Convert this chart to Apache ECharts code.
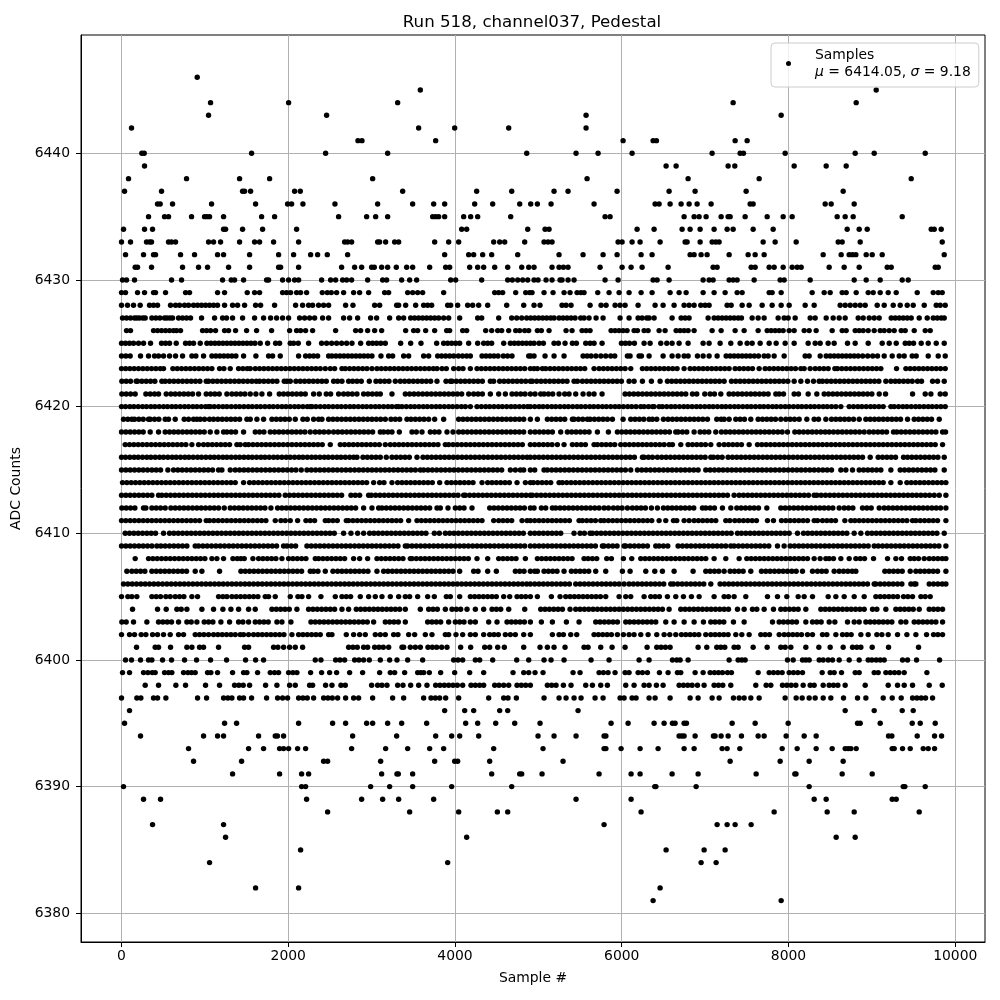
<!DOCTYPE html>
<html><head><meta charset="utf-8">
<script src="https://cdn.jsdelivr.net/npm/echarts@6/dist/echarts.min.js"></script>
<style>html,body{margin:0;padding:0;background:#fff}#c{width:1000px;height:1000px}</style>
</head><body><div id="c"></div>
<script>
const titleText="Run 518, channel037, Pedestal";
const xName="Sample #", yName="ADC Counts";
const xTicks=[0,2000,4000,6000,8000,10000];
const yTicks=[6380,6390,6400,6410,6420,6430,6440];
const x6446=[908];
const x6445=[3584,9052];
const x6444=[1068,2004,3312,7336,8812];
const x6443=[1044,2460,5572,7912];
const x6442=[120,3564,3996,4644,5572];
const x6441=[2836,2884,3768,6016,6376,6416,7360,7504];
const x6440=[244,272,1560,2448,3192,4860,5452,5716,6124,7084,7420,7460,7960,8800,9028,9640];
const x6439=[276,6532,6652,7276,7356,8068,8452,8692];
const x6438=[84,780,1416,1776,3012,5584,6796,7648,9472];
const x6437=[36,480,1452,1476,1548,2076,2144,3372,4260,4680,5188,5356,5944,6568,6880,7492,8656];
const x6436=[432,464,612,1080,1608,1992,2040,2176,2560,3072,3492,3744,3876,4236,4452,4776,4908,4988,5152,5668,6400,6448,6580,6712,6808,6904,7072,7540,7576,8440,8512,8788];
const x6435=[324,516,564,840,996,1024,1056,1224,1680,1836,2604,2940,3048,3192,3732,3768,3804,3876,4104,4188,4272,4668,5800,5860,6748,6868,6928,7012,7192,7276,7300,7480,7744,7936,8044,8584,8680,8776,9364];
const x6434=[24,276,372,1224,1248,1452,1692,2100,4080,4140,4872,5080,5128,6184,6388,6724,6820,6940,7108,7264,7336,7576,7816,8704,8848,8944,9712,9748,9832];
const x6433=[0,108,300,336,360,564,600,648,1044,1104,1188,1416,1596,1656,1824,2124,2676,2712,2760,3072,3096,3168,3276,3324,3756,3924,4044,4464,4536,4596,4836,5068,5116,5164,5956,6004,6124,6220,6460,6760,6784,6940,7084,7128,7168,7696,7840,8092,8596,8644,8860,9844];
const x6432=[48,264,384,408,708,876,1152,1224,1536,1884,2064,2268,2352,2468,2712,3876,4164,4224,4332,4440,4752,5248,5536,5776,5944,6232,6364,6820,6868,6952,7024,7288,7516,7600,7708,8416,8632,8728,8768,8808,8932,9004,9124,9868];
const x6431=[164,192,360,732,924,1032,1284,1536,1884,1908,2124,2640,2796,2880,3000,3032,3120,3192,3296,3420,3492,3696,3888,3936,4176,4272,4344,4476,4632,4800,4884,4948,5164,5248,5300,5356,5740,6004,6112,6244,6556,7096,7144,7552,7600,7768,7828,7936,8044,8104,8152,8488,8668,8848,9184,9232,9760,9796];
const x6430=[12,60,156,600,720,1212,1316,1356,1464,1740,1764,1932,2004,2076,2124,2400,2508,2568,2652,2700,2760,2952,3132,3180,3360,3456,3540,3948,4008,4320,4632,4688,4752,4812,4872,4948,4996,5092,5164,5260,5284,5356,5428,5800,5956,6376,6424,6568,6976,7048,7096,7288,7336,7384,7588,7900,7948,8260,8788,8932,9100,9364,9436];
const x6429=[0,48,192,276,384,408,528,768,816,1152,1236,1508,1596,1656,1932,1980,2028,2100,2148,2220,2408,2468,2516,2580,2664,2784,2856,2964,3156,3204,3432,3492,3552,3612,3864,4476,4524,4572,4728,4848,4896,4924,5068,5176,5308,5380,5464,5510,5548,5712,5848,5968,6088,6232,6364,6580,6688,6772,6976,7108,7240,7384,7444,7768,7804,7912,8284,8428,8500,8644,8692,8812,8956,9016,9100,9196,9292,9544,9736,9796,9844];
const x6428=[0,72,144,224,336,384,432,588,648,696,756,804,864,912,960,1008,1056,1104,1152,1236,1332,1392,1476,1608,1668,1836,2088,2172,2244,2292,2364,2424,2484,2688,2776,3036,3096,3300,3324,3408,3528,3624,3672,3720,3912,3948,4032,4152,4212,4284,4392,4620,4824,4948,5020,5284,5332,5392,5620,5752,5812,5920,5980,6040,6196,6400,6496,6628,6748,6808,6868,6948,7000,7048,7264,7312,7444,7528,7684,7804,7912,8008,8200,8308,8620,8680,8740,8800,8860,8920,9064,9148,9256,9340,9424,9496,9628,9772,9820,9880];
const x6427=[12,60,108,156,184,216,256,284,364,412,460,516,544,580,612,684,732,780,828,960,1116,1212,1260,1332,1452,1596,1704,1788,1860,1932,2004,2136,2196,2256,2316,2412,2484,2664,2736,2832,2988,3060,3216,3324,3384,3468,3516,3564,3612,3660,3708,3756,3804,3864,3924,4056,4272,4320,4524,4680,4740,4800,4860,4908,4956,5004,5052,5100,5148,5188,5248,5296,5344,5392,5440,5508,5548,5608,5692,5776,5980,6088,6196,6244,6300,6328,6388,6604,6712,6760,6808,7036,7108,7156,7204,7252,7300,7348,7396,7436,7564,7636,7708,7876,7948,7996,8080,8260,8320,8452,8536,8608,8680,8836,8896,8968,9028,9088,9232,9280,9328,9376,9424,9472,9568,9664,9736,9784,9832,9868];
const x6426=[60,108,384,432,480,528,576,624,660,708,972,1020,1068,1128,1236,1284,1368,1500,1620,1800,2016,2100,2148,2208,2292,2568,2808,2868,2952,3036,3120,3408,3504,3552,3648,3756,3900,3936,4092,4140,4368,4440,4512,4560,4644,4728,4776,4836,4884,4988,5036,5128,5332,5404,5524,5572,5620,5872,5920,5968,6016,6064,6148,6188,6268,6316,6448,6520,6652,6700,6748,6796,6868,7084,7192,7360,7468,7636,7744,7792,7840,7888,7936,8008,8068,8188,8248,8332,8524,8644,8692,8800,8848,8896,8956,9028,9100,9148,9208,9268,9352,9400,9508,9640,9700];
const x6425=[0,48,96,144,204,264,348,480,528,576,656,768,816,864,944,1024,1072,1120,1168,1216,1264,1312,1360,1408,1456,1504,1552,1600,1664,1752,1848,1896,2024,2064,2120,2244,2400,2460,2520,2580,2640,2700,2764,2868,2964,3012,3060,3110,3164,3348,3468,3592,3780,3864,3912,3960,4008,4056,4164,4272,4344,4392,4440,4584,4664,4712,4760,4808,4856,4904,4948,5008,5060,5188,5240,5320,5408,5456,5568,5620,5668,5764,5996,6044,6092,6152,6268,6340,6468,6540,6604,6688,6796,6976,7048,7180,7308,7420,7504,7564,7660,7768,7852,7960,8068,8236,8320,8380,8476,8548,8708,8800,8956,9124,9208,9292,9400,9448,9500,9592,9676,9772,9868];
const x6424=[0,52,104,228,324,396,444,504,576,648,732,844,892,984,1084,1132,1180,1228,1276,1324,1372,1464,1612,1764,1812,1904,2124,2208,2256,2304,2352,2484,2524,2572,2620,2668,2716,2764,2812,2860,2908,2956,3004,3112,3204,3252,3384,3444,3624,3684,3792,3840,3888,3936,3984,4040,4090,4140,4184,4324,4372,4420,4468,4516,4580,4630,4684,4884,4908,4948,5080,5188,5308,5536,5584,5632,5690,5750,5808,5868,5916,6068,6100,6208,6236,6328,6496,6604,6676,6748,6796,6908,6976,7048,7144,7252,7300,7348,7396,7444,7492,7540,7590,7640,7708,7756,7828,7948,8200,8248,8380,8452,8500,8548,8596,8644,8692,8740,8788,8836,8890,8950,9010,9068,9148,9244,9328,9388,9484,9532,9676,9796,9880];
const x6423=[0,50,100,152,204,256,308,360,412,464,504,616,668,720,772,824,876,928,980,1032,1084,1176,1228,1304,1404,1456,1508,1544,1604,1656,1708,1760,1812,1864,1916,1968,2020,2072,2124,2176,2228,2280,2332,2384,2444,2504,2556,2644,2684,2736,2788,2840,2892,2944,3004,3064,3116,3168,3220,3272,3324,3376,3428,3480,3532,3584,3636,3688,3740,3784,3844,3896,3984,4044,4096,4184,4264,4316,4368,4420,4472,4524,4576,4628,4680,4732,4784,4836,4904,4948,4988,5048,5088,5140,5192,5244,5296,5348,5400,5452,5504,5556,5668,5728,5780,5832,5884,5936,5988,6040,6108,6248,6300,6352,6404,6456,6508,6560,6612,6664,6748,6820,6872,6924,6976,7028,7080,7132,7184,7236,7288,7360,7412,7464,7516,7568,7648,7720,7772,7824,7876,7928,7980,8032,8084,8148,8188,8260,8320,8372,8424,8476,8556,8588,8640,8692,8744,8796,8848,8900,8952,9004,9056,9108,9296,9408,9460,9512,9564,9616,9668,9720,9772,9824,9880];
const x6422=[4,56,108,176,192,244,296,348,400,484,524,576,628,680,732,784,836,888,940,1016,1044,1096,1148,1200,1252,1304,1356,1408,1460,1512,1564,1616,1656,1708,1760,1812,1864,1952,1984,2024,2092,2144,2196,2248,2300,2352,2404,2456,2544,2592,2644,2724,2772,2824,2876,2972,3052,3104,3156,3208,3284,3344,3396,3448,3500,3552,3604,3656,3708,3784,3892,3944,3964,4016,4068,4120,4172,4224,4276,4328,4424,4464,4536,4588,4640,4692,4744,4796,4848,4904,4928,4980,5032,5084,5136,5188,5240,5292,5344,5428,5468,5528,5580,5632,5684,5736,5788,5840,5892,5944,5996,6088,6148,6248,6356,6460,6548,6600,6652,6704,6756,6808,6860,6912,6964,7016,7068,7120,7172,7228,7316,7368,7420,7472,7524,7576,7628,7680,7732,7784,7836,7888,7940,7992,8068,8148,8228,8300,8368,8408,8460,8512,8564,8616,8668,8720,8772,8824,8876,8928,8980,9032,9084,9168,9228,9280,9328,9380,9432,9484,9548,9596,9728,9788,9868];
const x6421=[4,56,108,164,292,344,396,444,536,592,644,696,748,800,852,924,1016,1068,1120,1172,1264,1324,1376,1428,1480,1544,1612,1684,1776,1892,1944,1996,2048,2100,2152,2204,2304,2372,2456,2508,2604,2664,2716,2768,2824,2904,2956,3008,3060,3104,3244,3404,3456,3508,3560,3612,3664,3716,3768,3820,3872,3924,3976,4028,4080,4164,4224,4276,4328,4424,4524,4604,4684,4736,4788,4840,4904,4960,5028,5068,5120,5172,5248,5316,5368,5448,5536,5608,5668,5764,6040,6092,6144,6196,6248,6300,6352,6404,6456,6508,6560,6612,6664,6716,6768,6848,6900,6996,7060,7112,7188,7288,7340,7392,7444,7496,7548,7600,7652,7704,7756,7848,7888,7940,8068,8120,8236,8340,8428,8480,8532,8584,8636,8688,8740,8792,8844,8896,8948,9000,9088,9164,9488,9640,9708,9820,9880];
const x6420=[0,48,100,148,200,252,300,352,400,452,504,552,604,652,704,756,804,856,904,956,1008,1044,1064,1112,1164,1216,1264,1316,1368,1416,1468,1520,1568,1620,1668,1720,1772,1820,1872,1924,1972,2024,2076,2124,2176,2228,2264,2284,2332,2384,2436,2484,2536,2588,2636,2688,2740,2788,2840,2892,2940,2992,3044,3092,3144,3196,3244,3296,3324,3364,3416,3468,3516,3568,3620,3668,3720,3772,3820,3872,3924,3972,4024,4076,4124,4184,4264,4316,4368,4416,4468,4520,4568,4620,4672,4720,4772,4824,4872,4904,4956,5008,5056,5108,5160,5208,5260,5312,5360,5412,5464,5512,5564,5616,5664,5716,5768,5816,5868,5920,5968,6020,6072,6120,6172,6228,6268,6320,6368,6388,6448,6488,6540,6592,6640,6692,6744,6792,6844,6896,6944,6996,7048,7096,7148,7200,7248,7300,7352,7400,7452,7504,7552,7604,7656,7704,7756,7808,7856,7908,7960,8008,8060,8112,8160,8212,8264,8312,8364,8416,8464,8516,8568,8628,8728,8780,8832,8880,8932,8984,9032,9084,9136,9228,9268,9320,9372,9420,9472,9524,9572,9624,9676,9724,9776,9828,9880];
const x6419=[24,76,124,156,208,260,324,344,396,448,524,564,644,752,804,864,904,944,996,1056,1104,1156,1208,1260,1312,1364,1416,1504,1544,1624,1704,1804,1856,1908,1960,2012,2084,2176,2228,2304,2364,2404,2484,2536,2588,2640,2692,2744,2796,2848,2900,2952,3004,3056,3108,3164,3232,3284,3336,3424,3472,3524,3576,3628,3684,3756,3864,4044,4096,4148,4200,4252,4304,4356,4408,4460,4512,4564,4616,4668,4720,4772,4824,4904,4988,5108,5160,5212,5264,5316,5408,5428,5480,5532,5588,5620,5672,5724,5776,5828,5888,6016,6108,6160,6212,6264,6328,6368,6420,6500,6556,6608,6660,6712,6764,6816,6868,6920,6972,7028,7140,7192,7228,7288,7368,7420,7472,7548,7636,7688,7740,7792,7844,7908,7968,8020,8072,8128,8220,8308,8360,8448,8516,8568,8620,8672,8724,8780,8848,8928,8980,9032,9084,9136,9188,9240,9292,9344,9428,9508,9560,9612,9664,9716,9808];
const x6418=[0,52,104,156,208,260,344,444,524,576,628,680,732,784,836,888,940,992,1064,1144,1224,1264,1316,1368,1464,1604,1656,1708,1784,1836,1888,1940,1992,2044,2096,2148,2200,2264,2324,2376,2428,2484,2544,2596,2648,2700,2752,2804,2856,2908,2960,3012,3104,3144,3196,3244,3332,3484,3536,3604,3704,3756,3808,3904,3976,4044,4096,4148,4200,4252,4304,4356,4408,4460,4512,4564,4616,4668,4720,4772,4824,4904,4960,5012,5064,5116,5168,5268,5348,5400,5452,5504,5556,5608,5708,5840,5948,6000,6052,6104,6156,6208,6260,6312,6364,6416,6468,6520,6572,6648,6676,6728,6780,6868,6940,6992,7044,7128,7196,7248,7300,7352,7404,7456,7508,7560,7612,7664,7716,7768,7820,7872,7924,7988,8076,8128,8180,8232,8284,8336,8388,8440,8488,8540,8592,8644,8696,8748,8800,8852,8908,8968,9020,9072,9124,9176,9260,9300,9352,9404,9456,9508,9560,9612,9664,9716,9768,9848,9884];
const x6417=[44,96,148,200,252,304,356,408,460,512,564,616,668,720,772,844,924,984,1036,1088,1140,1192,1244,1296,1384,1424,1484,1524,1576,1628,1680,1732,1784,1836,1888,1940,1992,2044,2096,2148,2200,2252,2304,2356,2408,2504,2624,2676,2728,2780,2832,2884,2936,2988,3040,3092,3164,3224,3276,3328,3380,3432,3484,3536,3588,3640,3692,3744,3796,3884,3924,3976,4028,4080,4132,4184,4236,4288,4340,4392,4444,4496,4548,4600,4652,4704,4756,4808,4904,4956,5008,5060,5112,5164,5228,5308,5408,5460,5512,5564,5668,5708,5760,5812,5864,5916,5988,6040,6092,6144,6196,6248,6300,6352,6404,6456,6508,6568,6608,6708,6796,6848,6900,6952,7004,7068,7168,7228,7280,7332,7384,7436,7528,7628,7680,7732,7784,7836,7888,7940,7992,8044,8096,8148,8200,8252,8304,8356,8408,8460,8512,8564,8616,8668,8720,8772,8824,8876,8928,8980,9032,9084,9136,9188,9240,9292,9344,9396,9448,9500,9552,9604,9656,9708,9760,9848];
const x6416=[0,48,100,152,200,252,304,352,404,456,504,556,608,656,708,760,808,860,912,960,1012,1064,1112,1164,1216,1264,1316,1368,1416,1468,1520,1568,1620,1672,1720,1772,1824,1872,1924,1976,2024,2076,2128,2176,2228,2280,2328,2380,2432,2480,2532,2584,2632,2684,2736,2784,2824,2896,2948,3000,3052,3104,3176,3244,3296,3348,3400,3452,3544,3616,3668,3720,3772,3824,3876,3928,3980,4032,4084,4136,4188,4240,4292,4344,4396,4448,4500,4552,4604,4656,4708,4760,4812,4864,4904,4956,5008,5060,5112,5164,5216,5268,5320,5372,5424,5476,5528,5580,5632,5684,5736,5788,5840,5892,5944,5996,6048,6100,6152,6248,6268,6320,6368,6428,6480,6532,6584,6636,6688,6740,6792,6844,6896,6948,7000,7068,7100,7152,7204,7276,7328,7380,7432,7484,7536,7588,7640,7692,7744,7796,7848,7900,7952,8004,8056,8108,8160,8212,8264,8316,8368,8420,8472,8524,8576,8628,8680,8732,8784,8836,8888,8980,9076,9128,9180,9232,9284,9380,9428,9480,9532,9584,9636,9688,9740,9792,9868];
const x6415=[0,52,104,156,208,260,312,364,416,468,556,624,676,728,780,832,884,936,988,1040,1092,1164,1204,1304,1364,1416,1468,1520,1572,1624,1676,1728,1780,1832,1884,1936,1988,2040,2092,2156,2224,2276,2328,2380,2432,2484,2536,2588,2640,2692,2744,2796,2848,2900,2952,3004,3056,3108,3160,3212,3264,3316,3368,3420,3472,3524,3584,3624,3676,3728,3780,3832,3884,3936,3988,4040,4092,4144,4196,4248,4300,4352,4404,4456,4508,4560,4664,4724,4784,4824,4904,4956,5068,5108,5160,5212,5264,5316,5368,5420,5472,5524,5576,5628,5680,5732,5784,5836,5888,5940,5992,6044,6108,6188,6240,6292,6344,6396,6448,6500,6552,6604,6656,6708,6760,6812,6864,6916,7008,7060,7112,7164,7216,7268,7320,7372,7424,7476,7528,7580,7632,7684,7736,7788,7840,7892,7944,7996,8048,8100,8152,8204,8256,8308,8360,8412,8464,8516,8628,8688,8768,8848,8900,8952,9004,9056,9108,9228,9340,9392,9444,9496,9548,9600,9652,9704,9756,9868];
const x6414=[12,64,116,168,220,272,324,376,428,480,532,584,636,688,740,792,844,896,948,1000,1052,1104,1156,1208,1260,1312,1364,1464,1536,1588,1640,1692,1744,1796,1848,1900,1952,2004,2056,2108,2160,2212,2264,2316,2368,2420,2472,2524,2576,2628,2680,2732,2784,2836,2888,2940,3024,3096,3148,3244,3312,3364,3416,3468,3520,3572,3624,3676,3728,3816,3904,3956,4008,4060,4112,4164,4216,4324,4392,4444,4496,4548,4600,4652,4744,4844,4904,4940,4992,5044,5096,5148,5248,5288,5340,5392,5444,5496,5548,5600,5652,5704,5756,5808,5860,5912,5964,6016,6068,6120,6172,6224,6276,6328,6380,6432,6484,6536,6588,6640,6692,6744,6796,6848,6900,6952,7004,7056,7108,7160,7212,7264,7316,7368,7420,7472,7524,7576,7628,7680,7732,7784,7836,7888,7940,7992,8044,8096,8148,8200,8252,8304,8356,8408,8460,8512,8564,8616,8668,8720,8772,8824,8876,8928,8980,9032,9084,9136,9228,9340,9420,9472,9524,9576,9628,9680,9732,9784,9836,9888];
const x6413=[0,52,104,156,208,260,312,364,444,484,536,588,640,692,744,796,848,900,952,1004,1056,1108,1160,1212,1264,1316,1368,1420,1472,1524,1576,1628,1680,1732,1784,1836,1888,1964,2016,2068,2120,2172,2224,2276,2328,2380,2432,2484,2536,2588,2640,2752,2804,2856,2964,2996,3048,3100,3152,3204,3256,3308,3360,3412,3464,3516,3568,3620,3672,3724,3776,3828,3880,3932,3984,4036,4104,4124,4176,4228,4280,4332,4384,4436,4488,4540,4592,4644,4696,4748,4800,4852,4904,4928,4980,5032,5084,5136,5188,5240,5292,5344,5396,5448,5500,5552,5604,5656,5708,5760,5812,5864,5916,5968,6020,6072,6124,6176,6228,6280,6332,6384,6436,6488,6540,6592,6644,6696,6748,6800,6852,6904,6956,7008,7060,7112,7164,7216,7268,7348,7408,7460,7512,7564,7616,7668,7720,7772,7824,7876,7928,7980,8032,8084,8136,8188,8240,8308,8340,8392,8444,8496,8548,8600,8652,8704,8756,8808,8860,8912,8964,9016,9068,9120,9172,9224,9276,9328,9380,9432,9484,9536,9588,9640,9692,9748,9808,9888];
const x6412=[4,56,108,160,264,292,364,416,468,524,592,644,696,748,800,852,904,956,1008,1060,1112,1164,1232,1304,1356,1408,1460,1512,1564,1616,1668,1720,1792,1872,1924,1976,2028,2080,2132,2184,2236,2288,2340,2392,2444,2496,2548,2600,2652,2704,2756,2808,2904,3004,3084,3124,3176,3228,3280,3332,3384,3436,3488,3540,3592,3644,3696,3784,3824,3916,4004,4056,4108,4204,4416,4468,4520,4572,4624,4676,4728,4780,4832,4904,4948,5036,5088,5168,5208,5260,5312,5364,5416,5468,5520,5572,5624,5676,5728,5788,5840,5900,5952,6004,6068,6128,6180,6232,6284,6356,6428,6500,6552,6604,6656,6708,6760,6812,6864,6968,7008,7060,7112,7208,7308,7380,7432,7484,7536,7588,7640,7740,7908,7960,8012,8064,8116,8168,8220,8272,8324,8376,8428,8480,8532,8608,8668,8720,8772,8888,8940,8992,9088,9148,9200,9252,9304,9356,9408,9460,9512,9564,9616,9668,9720,9772,9824,9888];
const x6411=[0,52,104,156,208,260,312,364,416,468,520,572,624,676,728,780,832,884,936,1016,1056,1108,1160,1212,1264,1316,1368,1420,1472,1524,1576,1628,1680,1732,1844,1912,1964,2024,2112,2212,2264,2316,2444,2484,2536,2588,2696,2724,2776,2828,2880,2932,2984,3036,3088,3140,3192,3244,3296,3348,3444,3544,3596,3648,3700,3752,3804,3856,3908,3960,4012,4064,4116,4168,4220,4272,4324,4464,4524,4576,4628,4680,4804,4864,4904,4956,5008,5060,5112,5164,5216,5268,5320,5372,5488,5528,5580,5632,5684,5748,5788,5840,5892,5944,5996,6048,6100,6152,6204,6256,6308,6360,6448,6528,6620,6660,6748,6808,6868,6920,6972,7024,7076,7128,7248,7296,7356,7408,7460,7512,7564,7616,7748,7820,7916,7968,8020,8072,8124,8176,8228,8308,8348,8408,8460,8512,8564,8676,8748,8796,8848,8900,8952,9004,9056,9108,9160,9212,9264,9316,9368,9420,9488,9528,9580,9632,9684,9736,9788,9888];
const x6410=[44,96,148,200,252,304,356,408,504,576,628,680,732,784,836,888,940,992,1044,1096,1148,1200,1252,1304,1356,1408,1460,1512,1564,1616,1668,1720,1772,1824,1876,1928,1980,2032,2084,2136,2188,2240,2292,2344,2396,2448,2500,2552,2664,2752,2832,2904,2976,3028,3080,3132,3184,3236,3288,3340,3392,3444,3496,3548,3600,3652,3752,3812,3884,3936,3988,4040,4092,4144,4196,4248,4300,4352,4404,4456,4508,4560,4612,4664,4716,4768,4820,4904,4956,5008,5060,5112,5164,5216,5268,5428,5500,5552,5620,5648,5700,5752,5804,5856,5908,5960,6012,6064,6116,6168,6220,6272,6324,6376,6428,6480,6532,6584,6636,6688,6740,6792,6844,6896,6948,7000,7052,7104,7156,7208,7260,7312,7388,7436,7488,7540,7592,7644,7696,7748,7800,7852,7904,7956,8008,8108,8180,8232,8284,8336,8388,8440,8492,8544,8596,8648,8700,8788,8868,8948,9000,9052,9104,9156,9208,9260,9312,9364,9416,9468,9520,9572,9624,9676,9728,9780,9868];
const x6409=[0,52,104,156,208,260,312,364,424,472,524,576,628,680,732,784,884,924,976,1028,1080,1132,1184,1236,1288,1340,1392,1444,1496,1548,1600,1652,1704,1756,1808,1860,1944,1984,2036,2088,2224,2276,2328,2380,2432,2484,2536,2588,2640,2692,2744,2796,2848,2900,2952,3004,3056,3108,3160,3212,3264,3316,3404,3432,3484,3536,3588,3640,3692,3744,3796,3848,3900,3952,4004,4056,4108,4160,4212,4264,4316,4368,4420,4472,4524,4576,4628,4680,4732,4784,4836,4904,4956,5008,5060,5112,5164,5216,5268,5320,5372,5424,5476,5528,5580,5632,5684,5768,5788,5840,5892,5944,6028,6048,6100,6152,6204,6256,6308,6408,6448,6500,6552,6676,6728,6780,6832,6884,6936,6988,7040,7092,7144,7196,7248,7308,7348,7400,7452,7504,7556,7608,7660,7712,7764,7868,7948,8020,8072,8124,8176,8228,8280,8332,8384,8436,8488,8540,8592,8644,8696,8748,8800,8852,8904,8956,9028,9076,9128,9180,9232,9284,9336,9388,9440,9492,9544,9596,9648,9700,9752,9804,9888];
const x6408=[164,324,376,428,480,532,584,636,688,740,792,844,896,948,1000,1084,1144,1224,1336,1388,1432,1472,1576,1644,1696,1748,1800,1852,1924,2004,2056,2108,2160,2212,2324,2364,2416,2468,2520,2572,2624,2676,2784,2856,2952,3064,3116,3168,3220,3272,3324,3376,3464,3484,3536,3588,3640,3692,3744,3796,3848,3900,3952,4004,4056,4108,4160,4264,4392,4524,4576,4628,4680,4732,4844,4988,5040,5092,5144,5196,5248,5300,5352,5404,5548,5596,5648,5700,5820,5876,6020,6120,6228,6280,6332,6384,6436,6488,6540,6592,6644,6696,6748,6800,6852,6904,6956,7008,7108,7248,7408,7500,7552,7604,7656,7708,7760,7812,7864,7916,7968,8020,8072,8124,8176,8228,8308,8380,8448,8488,8540,8628,8728,8808,8860,8912,9020,9188,9288,9356,9460,9508,9560,9628,9688,9740,9792,9844,9888];
const x6407=[64,124,176,228,280,364,416,468,520,572,624,676,728,780,884,964,1176,1432,1484,1536,1588,1640,1692,1744,1796,1848,1900,1952,2004,2056,2108,2160,2264,2304,2356,2444,2536,2592,2644,2696,2748,2800,2852,2904,2956,3064,3144,3196,3248,3300,3352,3404,3456,3508,3560,3612,3664,3716,3768,3820,3872,3924,3976,4056,4224,4276,4392,4496,4724,4776,4828,4904,4956,4988,5068,5120,5172,5224,5308,5396,5448,5500,5552,5604,5688,5808,6008,6100,6288,6396,6488,6628,6856,7008,7060,7112,7164,7228,7300,7352,7404,7456,7548,7676,7728,7780,7832,7884,7936,7988,8040,8092,8168,8288,8348,8400,8452,8548,8608,8660,8712,8764,8808,9156,9208,9260,9312,9364,9460,9528,9580,9632,9684,9736,9788,9888];
const x6406=[24,76,128,180,232,284,336,388,440,492,544,596,648,700,752,804,856,908,960,1012,1064,1116,1168,1220,1272,1324,1376,1428,1480,1532,1584,1636,1688,1740,1792,1844,1896,1948,2000,2052,2104,2156,2208,2260,2312,2364,2416,2468,2520,2572,2624,2676,2728,2780,2832,2884,2936,2988,3040,3092,3144,3196,3248,3300,3352,3404,3456,3508,3560,3612,3664,3716,3768,3820,3872,3924,3976,4028,4080,4132,4184,4236,4288,4340,4392,4444,4496,4548,4600,4652,4704,4756,4808,4860,4904,4956,5008,5060,5112,5164,5216,5268,5320,5372,5448,5500,5552,5604,5656,5708,5760,5812,5864,5916,5968,6028,6088,6140,6192,6244,6296,6348,6400,6452,6504,6588,6620,6672,6724,6776,6828,6880,6932,6984,7068,7180,7232,7284,7336,7388,7440,7492,7544,7596,7648,7700,7752,7804,7856,7908,7960,8012,8064,8116,8168,8220,8272,8324,8376,8428,8480,8532,8584,8636,8688,8740,8792,8844,8896,8948,9028,9048,9100,9152,9204,9256,9308,9360,9468,9508,9528,9688,9740,9792,9844,9888];
const x6405=[0,76,124,184,364,416,468,532,584,644,696,748,844,912,1164,1216,1264,1324,1376,1428,1480,1532,1584,1636,1724,1764,1844,2024,2116,2164,2244,2392,2564,2644,2696,2748,2864,2964,3044,3124,3224,3324,3404,3456,3552,3672,3752,3896,3944,4056,4184,4236,4288,4340,4392,4444,4496,4584,4656,4744,4796,4848,4904,4988,5156,5260,5328,5380,5432,5484,5536,5588,5640,5692,5744,5808,5968,6048,6108,6268,6348,6400,6452,6548,6648,6740,6836,6928,7108,7228,7280,7348,7488,7748,7868,7980,8116,8188,8288,8476,8568,8668,8788,8908,9048,9100,9152,9204,9256,9308,9380,9432,9488,9588,9640,9700];
const x6404=[132,432,536,664,716,784,964,1104,1216,1312,1404,1524,1604,1804,1856,1908,1960,2012,2104,2244,2296,2348,2400,2452,2504,2556,2644,2724,2816,2868,2920,2972,3024,3076,3128,3180,3232,3284,3336,3404,3584,3684,3736,3788,3884,3964,4016,4068,4144,4244,4344,4444,4496,4548,4644,4836,5028,5080,5132,5184,5236,5288,5380,5448,5500,5552,5604,5656,5708,5760,5812,5864,5916,5968,6020,6072,6124,6176,6228,6280,6332,6384,6436,6488,6568,6708,6760,6812,6864,6916,6968,7020,7072,7124,7176,7228,7280,7388,7468,7568,7620,7708,7820,7908,7960,8012,8064,8116,8208,8388,8440,8492,8544,8596,8648,8700,8752,8804,8856,8908,9008,9060,9168,9288,9340,9392,9444,9496,9568,9688,9740,9792,9848];
const x6403=[4,56,144,304,444,496,548,600,684,784,836,904,992,1044,1096,1192,1296,1404,1456,1524,1604,1656,1708,1760,1864,1924,2032,2272,2324,2376,2428,2480,2532,2584,2636,2688,2740,2792,2844,2896,2948,3024,3164,3216,3268,3320,3404,3672,3724,3776,3828,3924,4004,4056,4108,4184,4244,4404,4504,4624,4676,4728,4780,4832,4904,5036,5168,5336,5488,5688,5740,5792,5844,5896,5948,6048,6096,6148,6200,6252,6304,6356,6408,6528,6628,6748,6868,6980,7068,7120,7172,7224,7340,7468,7808,7888,7940,7992,8044,8096,8208,8288,8340,8392,8488,8556,8708,8788,8848,8928,8980,9032,9084,9136,9188,9240,9348,9408,9508,9560,9612,9664,9716,9768,9848];
const x6402=[0,96,156,236,292,372,432,504,584,684,744,884,936,988,1044,1104,1156,1208,1260,1312,1364,1424,1464,1524,1584,1636,1688,1740,1792,1844,1896,1948,2044,2124,2176,2228,2280,2332,2384,2484,2524,2696,2784,2856,2924,3044,3104,3164,3264,3316,3444,3516,3644,3724,3884,3924,4012,4092,4184,4244,4344,4416,4468,4520,4604,4664,4724,4824,4904,5168,5248,5300,5388,5460,5668,5720,5772,5824,5876,5948,6020,6088,6148,6228,6316,6420,6508,6576,6648,6716,6768,6820,6872,6924,7008,7068,7120,7172,7224,7276,7368,7440,7528,7668,7720,7772,7888,7948,8000,8052,8104,8156,8228,8288,8408,8460,8568,8648,8700,8752,8868,8956,9060,9120,9196,9308,9420,9528,9656,9740,9792,9848];
const x6401=[180,404,444,588,784,844,936,984,1164,1476,1524,1824,1876,1944,2016,2084,2172,2724,2776,2828,2904,2952,3036,3088,3140,3204,3364,3384,3464,3524,3584,3676,3728,3780,3840,3904,4068,4188,4356,4416,4512,4592,4824,5020,5108,5188,5320,5548,5596,5748,5884,6040,6304,6420,6472,6524,6580,6916,7020,7140,7188,7236,7348,7396,7576,7744,7908,7960,8028,8208,8364,8500,8656,8768,8820,8868,9004,9200,9560];
const x6400=[48,120,228,324,364,492,600,756,900,1068,1260,1488,1608,1704,2324,2392,2568,2620,2676,2796,2848,2904,2972,3104,3216,3304,3432,3612,3984,4036,4092,4244,4296,4452,4740,4884,5068,5152,5308,5632,5848,6208,6328,6608,6660,6700,6796,7288,7396,7440,7480,7988,8056,8168,8208,8248,8368,8416,8476,8528,8608,8728,8848,8956,9000,9052,9100,9148,9368,9428,9536,9812];
const x6399=[12,96,264,316,368,404,516,564,604,744,796,840,884,1032,1072,1152,1332,1464,1504,1632,1784,1836,1884,2004,2056,2104,2268,2400,2496,2580,2736,2892,3096,3224,3276,3396,3552,3590,3624,3692,3828,3996,4176,4344,4696,4824,4884,4960,5056,5416,5500,5728,5780,5836,5920,6040,6088,6196,6248,6308,6452,6556,6668,6708,6880,6976,7060,7112,7160,7208,7268,7316,7636,7768,7820,7872,7924,8008,8060,8112,8168,8404,8500,8548,8636,8800,8848,9028,9076,9168,9220,9272,9324,9388,9660];
const x6398=[284,444,652,768,1008,1176,1356,1408,1460,1536,1728,1864,2016,2084,2256,2292,2448,2524,2632,2684,3000,3072,3124,3184,3312,3376,3468,3564,3664,3768,3820,3872,3924,3976,4028,4092,4192,4244,4296,4344,4476,4528,4584,4644,4744,4796,4848,4904,5108,5160,5212,5300,5392,5568,5648,5748,5828,6048,6148,6268,6328,6416,6496,6688,6740,6792,6844,6908,6988,7108,7160,7212,7308,7608,7732,7788,7928,7980,8032,8088,8176,8260,8308,8416,8488,8540,8592,8680,8920,9196,9308,9388,9488,9688,9844];
const x6397=[0,184,232,384,432,532,912,1020,1224,1276,1324,1416,1464,1560,1740,1872,1932,1992,2124,2176,2228,2304,2424,2476,2528,2592,2688,2784,2844,3012,3252,3384,3624,3712,3764,3816,3888,4044,4404,4584,4636,4736,5068,5248,5332,5428,5512,5680,5776,5980,6028,6124,6172,6328,6400,6580,6820,6916,7084,7168,7340,7408,7468,7548,7648,7960,8092,8164,8248,8320,8416,8508,8660,8828,8928,9136,9244,9352,9488,9540,9592,9644,9728];
const x6396=[96,3876,4116,4224,4536,4632,5476,8680,9028,9364,9496];
const x6395=[36,1236,1380,2124,2532,2688,2940,3012,3192,3360,3660,4128,4272,4488,4716,5020,5872,6076,6388,6508,6608,6640,6748,6776,7324,7600,7996,8828,8860,9100,9484,9580,9760];
const x6394=[228,984,1152,1224,1644,1844,1870,1944,2772,3300,3768,3960,4056,4284,4996,5188,5452,5788,5810,6688,6720,6748,6880,7100,7120,7192,7276,7436,7636,7708,7972,8188,8332,9200,9240,9544,9752,9836];
const x6393=[804,1524,1704,1896,1944,2004,2112,2208,2760,3168,3432,3696,3864,4464,5056,5788,5810,5992,6220,6436,6748,6868,7204,7264,7416,7924,8104,8332,8524,8680,8715,8748,8812,9244,9268,9368,9460,9616,9676,9752];
const x6392=[864,1440,2424,2472,3108,3756,3996,4032,4416,5296,7300,7900,8248,8656];
const x6391=[1332,1896,2160,2244,3120,3304,3320,3492,4440,4776,4800,5044,5728,6112,6220,6604,6916,7612,8076,8090,8644,9004];
const x6390=[24,2160,2208,2988,3216,3492,3960,4680,6396,6410,6892,8248,9376,9396,9640];
const x6389=[264,468,2220,2880,3132,3324,3744,5452,6112,8308,8452,9244,9292];
const x6388=[2472,3456,4044,4508,4632,6232,7828,8464,8788,9568];
const x6387=[372,1224,5788,7144,7264,7360,7552];
const x6386=[1248,4140,8572,8800];
const x6385=[2148,6532,6988,7240];
const x6384=[1056,3912,6952,7132];
const x6382=[1608,2124,6460];
const x6381=[6376,7912];
const levels=[6446,6445,6444,6443,6442,6441,6440,6439,6438,6437,6436,6435,6434,6433,6432,6431,6430,6429,6428,6427,6426,6425,6424,6423,6422,6421,6420,6419,6418,6417,6416,6415,6414,6413,6412,6411,6410,6409,6408,6407,6406,6405,6404,6403,6402,6401,6400,6399,6398,6397,6396,6395,6394,6393,6392,6391,6390,6389,6388,6387,6386,6385,6384,6382,6381];
const rows=[x6446,x6445,x6444,x6443,x6442,x6441,x6440,x6439,x6438,x6437,x6436,x6435,x6434,x6433,x6432,x6431,x6430,x6429,x6428,x6427,x6426,x6425,x6424,x6423,x6422,x6421,x6420,x6419,x6418,x6417,x6416,x6415,x6414,x6413,x6412,x6411,x6410,x6409,x6408,x6407,x6406,x6405,x6404,x6403,x6402,x6401,x6400,x6399,x6398,x6397,x6396,x6395,x6394,x6393,x6392,x6391,x6390,x6389,x6388,x6387,x6386,x6385,x6384,x6382,x6381];
const points=[];
levels.forEach((lv,i)=>rows[i].forEach(s=>points.push([s,lv])));
const font='"DejaVu Sans"';
const tickStyle={color:'#000',fontFamily:font,fontSize:13.9,formatter:v=>String(v)};
const chart=echarts.init(document.getElementById('c'),null,{renderer:'canvas'});
chart.setOption({
  animation:false,
  backgroundColor:'#fff',
  title:{text:titleText,left:527,top:9,textAlign:'center',textStyle:{color:'#000',fontFamily:font,fontSize:16.67,fontWeight:'normal'}},
  grid:{left:81,right:15,top:35,bottom:58,show:true,borderColor:'#000',borderWidth:1,backgroundColor:'transparent'},
  legend:{show:true,left:771,top:43,orient:'vertical',icon:'circle',itemWidth:5,itemHeight:5,padding:[5,8,8,15],
    backgroundColor:'rgba(255,255,255,0.8)',borderColor:'#ccc',borderWidth:1,borderRadius:4,
    data:['Samples'],
    formatter:()=>'{s|}{t|Samples}\n{s|}{i|μ}{t| = 6414.05, }{i|σ}{t| = 9.18}',
    textStyle:{rich:{s:{width:19},t:{fontFamily:font,fontSize:13.9,color:'#000',lineHeight:17},i:{fontFamily:font,fontStyle:'italic',fontSize:13.9,color:'#000',lineHeight:17}}}},
  xAxis:{type:'value',min:-486,max:10357,name:xName,nameLocation:'middle',nameGap:29,
    nameTextStyle:{color:'#000',fontFamily:font,fontSize:13.9},
    axisLine:{show:true,onZero:false,lineStyle:{color:'#000',width:1}},
    axisTick:{show:true,customValues:xTicks,length:5,lineStyle:{color:'#000',width:1}},
    axisLabel:{customValues:xTicks,margin:7,...tickStyle},
    splitLine:{show:true,lineStyle:{color:'#b0b0b0',width:1}}},
  yAxis:{type:'value',min:6377.73,max:6449.34,name:yName,nameLocation:'middle',nameGap:46,
    nameTextStyle:{color:'#000',fontFamily:font,fontSize:13.9},
    axisLine:{show:true,onZero:false,lineStyle:{color:'#000',width:1}},
    axisTick:{show:true,customValues:yTicks,length:5,lineStyle:{color:'#000',width:1}},
    axisLabel:{customValues:yTicks,margin:11,...tickStyle},
    splitLine:{show:true,lineStyle:{color:'#b0b0b0',width:1}}},
  series:[{name:'Samples',type:'scatter',data:points,symbol:'circle',symbolSize:5.4,
    itemStyle:{color:'#000',opacity:1},silent:true,large:false,progressive:0,z:2}]
});
</script></body></html>
